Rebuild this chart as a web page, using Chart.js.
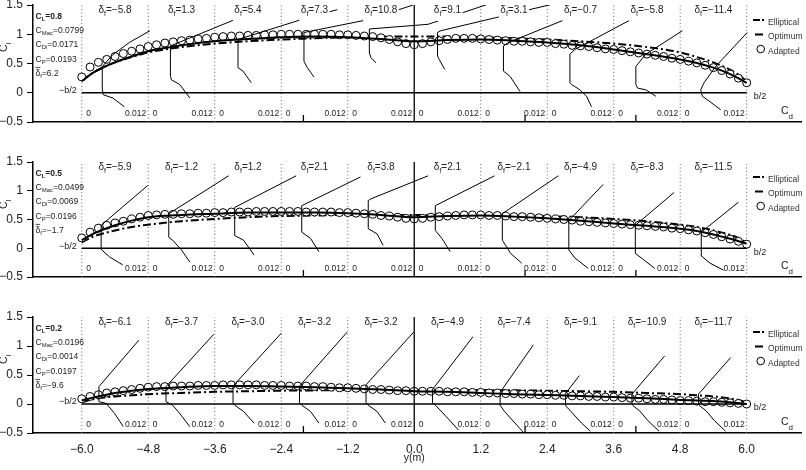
<!DOCTYPE html>
<html>
<head>
<meta charset="utf-8">
<script src="https://cdn.jsdelivr.net/npm/chart.js@4.4.0/dist/chart.umd.min.js"></script>
<style>
  body { margin: 0; background: #fff; }
  #wrap { position: relative; width: 806px; height: 470px; overflow: hidden; background: #fff; }
  canvas { position: absolute; left: 0; }
</style>
</head>
<body>
<div id="wrap">
  <canvas id="c1" width="806" height="156" style="top:0px;width:806px;height:156px"></canvas>
  <canvas id="c2" width="806" height="156" style="top:156px;width:806px;height:156px"></canvas>
  <canvas id="c3" width="806" height="159" style="top:311px;width:806px;height:159px"></canvas>
</div>
<script>
// span stations (m) of the adapted distribution
const stations = [-6,-5.85,-5.7,-5.55,-5.4,-5.25,-5.1,-4.95,-4.8,-4.65,-4.5,-4.35,-4.2,-4.05,-3.9,-3.75,-3.6,-3.45,-3.3,-3.15,
  -3,-2.85,-2.7,-2.55,-2.4,-2.25,-2.1,-1.95,-1.8,-1.65,-1.5,-1.35,-1.2,-1.05,-0.9,-0.75,-0.6,-0.45,-0.3,-0.15,
  0,0.15,0.3,0.45,0.6,0.75,0.9,1.05,1.2,1.35,1.5,1.65,1.8,1.95,2.1,2.25,2.4,2.55,2.7,2.85,
  3,3.15,3.3,3.45,3.6,3.75,3.9,4.05,4.2,4.35,4.5,4.65,4.8,4.95,5.1,5.25,5.4,5.55,5.7,5.85,6];

const adapted1 = [0.27,0.44,0.52,0.57,0.62,0.67,0.71,0.75,0.79,0.82,0.85,0.87,0.89,0.90,0.92,0.93,0.95,0.96,0.97,0.97,
  0.98,0.98,0.99,0.99,1.00,1.00,1.00,1.00,1.00,1.00,1.00,0.99,0.99,0.98,0.97,0.96,0.94,0.91,0.87,0.84,
  0.82,0.84,0.87,0.89,0.91,0.93,0.93,0.93,0.92,0.91,0.90,0.89,0.88,0.88,0.87,0.86,0.86,0.84,0.83,0.81,
  0.80,0.79,0.77,0.75,0.74,0.72,0.70,0.68,0.66,0.64,0.62,0.59,0.57,0.54,0.51,0.47,0.43,0.38,0.32,0.25,0.17];
const adapted2 = [0.18,0.28,0.35,0.40,0.44,0.47,0.51,0.54,0.57,0.58,0.59,0.59,0.60,0.60,0.61,0.61,0.62,0.62,0.63,0.63,
  0.63,0.64,0.64,0.64,0.64,0.64,0.64,0.63,0.63,0.63,0.63,0.62,0.62,0.61,0.60,0.59,0.57,0.56,0.54,0.52,
  0.51,0.52,0.54,0.55,0.56,0.57,0.58,0.58,0.58,0.57,0.57,0.56,0.55,0.55,0.54,0.53,0.52,0.51,0.50,0.49,
  0.47,0.46,0.45,0.44,0.43,0.42,0.41,0.40,0.39,0.38,0.37,0.35,0.34,0.32,0.30,0.27,0.24,0.20,0.16,0.12,0.07];
const adapted3 = [0.09,0.13,0.16,0.19,0.21,0.23,0.25,0.27,0.29,0.30,0.30,0.31,0.31,0.31,0.32,0.32,0.32,0.33,0.33,0.33,
  0.33,0.33,0.32,0.32,0.32,0.31,0.31,0.31,0.30,0.30,0.29,0.28,0.28,0.27,0.26,0.25,0.25,0.24,0.23,0.23,
  0.22,0.22,0.22,0.22,0.21,0.21,0.21,0.20,0.20,0.19,0.19,0.18,0.18,0.17,0.17,0.16,0.16,0.15,0.15,0.14,
  0.14,0.13,0.13,0.12,0.12,0.11,0.10,0.10,0.09,0.08,0.08,0.07,0.06,0.06,0.05,0.04,0.04,0.03,0.02,0.01,0.00];

// stations of the elliptical and optimum curves
const spanPts = [-6,-5.8,-5.6,-5.4,-5.1,-4.8,-4.2,-3.6,-3,-2.4,-1.8,-1.2,-0.6,0,0.6,1.2,1.8,2.4,3,3.6,4.2,4.8,5.1,5.4,5.6,5.8,6];
const elliptical1 = [0.20,0.34,0.44,0.52,0.61,0.69,0.78,0.84,0.88,0.91,0.93,0.95,0.96,0.96,0.96,0.95,0.93,0.91,0.88,0.84,0.78,0.69,0.61,0.52,0.44,0.34,0.20];
const optimum1    = [0.20,0.34,0.44,0.52,0.62,0.71,0.81,0.88,0.92,0.95,0.96,0.95,0.92,0.88,0.90,0.91,0.89,0.86,0.81,0.74,0.66,0.57,0.51,0.43,0.36,0.27,0.17];
const elliptical2 = [0.10,0.20,0.26,0.31,0.37,0.41,0.47,0.51,0.54,0.56,0.57,0.58,0.58,0.58,0.58,0.58,0.57,0.56,0.54,0.51,0.47,0.41,0.37,0.31,0.26,0.20,0.10];
const optimum2    = [0.14,0.25,0.33,0.40,0.48,0.54,0.58,0.60,0.62,0.62,0.62,0.61,0.58,0.54,0.56,0.57,0.55,0.52,0.48,0.43,0.39,0.34,0.30,0.24,0.19,0.14,0.08];
const elliptical3 = [0.03,0.08,0.11,0.13,0.15,0.17,0.19,0.21,0.22,0.23,0.235,0.24,0.24,0.24,0.24,0.24,0.235,0.23,0.22,0.21,0.19,0.17,0.15,0.13,0.11,0.08,0.03];
const optimum3    = [0.06,0.11,0.15,0.19,0.23,0.26,0.29,0.31,0.31,0.30,0.29,0.27,0.25,0.22,0.21,0.19,0.17,0.155,0.14,0.12,0.10,0.07,0.06,0.05,0.04,0.02,0.00];

// section polars: one strip per 1.2 m, Cd from 0 to 0.012 across the strip
const stripEdges = [-6,-4.8,-3.6,-2.4,-1.2,0,1.2,2.4,3.6,4.8];
const cdSpan = 0.012;
const polarCd1 = [
  [0.0077,0.0056,0.0039,0.0037,0.0037,0.0056,0.0086,0.0123],
  [0.0075,0.0057,0.0042,0.0040,0.0040,0.0156],
  [0.0066,0.0051,0.0042,0.0042,0.0156,0.0221],
  [0.0059,0.0047,0.0041,0.0041,0.0157,0.0238],
  [0.0051,0.0042,0.0039,0.0039,0.0145,0.0255],
  [0.0055,0.0045,0.0042,0.0042,0.0048,0.0252],
  [0.0071,0.0053,0.0041,0.0041,0.0050,0.0152],
  [0.0080,0.0071,0.0059,0.0044,0.0041,0.0041,0.0050,0.0151],
  [0.0076,0.0058,0.0043,0.0040,0.0040,0.0058,0.0124],
  [0.0073,0.0049,0.0040,0.0037,0.0043,0.0064,0.0121]];
const polarCl1 = [
  [-0.24,-0.09,-0.035,0.05,0.45,0.65,0.86,1.06],
  [-0.09,0.14,0.22,0.28,0.80,1.25],
  [0.17,0.37,0.43,0.91,1.25,1.42],
  [0.27,0.43,0.54,1.03,1.25,1.50],
  [0.51,0.60,0.68,1.09,1.17,1.52],
  [0.40,0.57,0.63,1.03,1.06,1.52],
  [0.02,0.28,0.37,0.80,0.86,1.25],
  [-0.24,-0.06,0.05,0.14,0.17,0.66,0.74,1.25],
  [-0.06,0.05,0.08,0.14,0.45,0.66,1.06],
  [-0.29,-0.12,-0.06,0.05,0.17,0.45,1.03]];
const polarCd2 = [
  [0.0074,0.0050,0.0035,0.0035,0.0119],
  [0.0075,0.0060,0.0044,0.0037,0.0037,0.0145],
  [0.0071,0.0052,0.0036,0.0036,0.0147],
  [0.0068,0.0053,0.0037,0.0037,0.0143],
  [0.0064,0.0053,0.0037,0.0037,0.0042,0.0145],
  [0.0065,0.0050,0.0038,0.0038,0.0145],
  [0.0074,0.0054,0.0039,0.0039,0.0140],
  [0.0074,0.0050,0.0039,0.0039,0.0101],
  [0.0074,0.0054,0.0039,0.0039,0.0109],
  [0.0078,0.0054,0.0039,0.0038,0.0038,0.0105]];
const polarCl2 = [
  [-0.29,-0.15,-0.02,0.40,1.09],
  [-0.24,-0.03,0.14,0.19,0.60,1.26],
  [-0.12,0.14,0.22,0.71,1.26],
  [-0.06,0.17,0.28,0.74,1.24],
  [0.05,0.25,0.34,0.83,0.86,1.26],
  [-0.06,0.17,0.31,0.74,1.26],
  [-0.26,-0.09,0.14,0.60,1.26],
  [-0.35,-0.17,-0.03,0.48,1.11],
  [-0.35,-0.20,-0.09,0.40,0.97],
  [-0.38,-0.26,-0.14,-0.03,0.28,0.80]];
const polarCd3 = [
  [0.0075,0.0059,0.0044,0.0031,0.0031,0.0103],
  [0.0075,0.0059,0.0044,0.0032,0.0032,0.0118],
  [0.0071,0.0052,0.0036,0.0033,0.0033,0.0120],
  [0.0068,0.0053,0.0037,0.0033,0.0033,0.0119],
  [0.0068,0.0053,0.0037,0.0033,0.0033,0.0119],
  [0.0080,0.0058,0.0038,0.0033,0.0033,0.0106],
  [0.0078,0.0062,0.0043,0.0035,0.0035,0.0095],
  [0.0078,0.0062,0.0043,0.0035,0.0033,0.0033,0.0058],
  [0.0082,0.0062,0.0047,0.0035,0.0033,0.0033,0.0092],
  [0.0082,0.0062,0.0047,0.0035,0.0033,0.0033,0.0091]];
const polarCl3 = [
  [-0.39,-0.16,0.01,0.04,0.30,1.10],
  [-0.39,-0.19,-0.02,0.04,0.30,1.20],
  [-0.33,-0.13,-0.02,0.02,0.31,1.22],
  [-0.33,-0.13,-0.02,0.02,0.31,1.24],
  [-0.33,-0.13,-0.02,0.02,0.33,1.24],
  [-0.45,-0.22,-0.02,0.02,0.25,1.16],
  [-0.50,-0.33,-0.13,-0.02,0.20,1.02],
  [-0.47,-0.33,-0.13,-0.05,-0.02,0.18,0.49],
  [-0.47,-0.29,-0.12,-0.03,0.00,0.17,0.83],
  [-0.47,-0.29,-0.12,-0.03,0.00,0.17,0.80]];

const flap1 = ["\u22125.8","1.3","5.4","7.3","10.8","9.1","3.1","\u22120.7","\u22125.8","\u221211.4"];
const flap2 = ["\u22125.9","\u22121.2","1.2","2.1","3.8","2.1","\u22122.1","\u22124.9","\u22128.3","\u221211.5"];
const flap3 = ["\u22126.1","\u22123.7","\u22123.0","\u22123.2","\u22123.2","\u22124.9","\u22127.4","\u22129.1","\u221210.9","\u221211.7"];

const infoCL   = ["0.8","0.5","0.2"];
const infoCMac = ["0.0799","0.0499","0.0196"];
const infoCDi  = ["0.0171","0.0069","0.0014"];
const infoCP   = ["0.0193","0.0196","0.0197"];
const infoDf   = ["6.2","\u22121.7","\u22129.6"];

const xTicks = [-6,-4.8,-3.6,-2.4,-1.2,0,1.2,2.4,3.6,4.8,6];
const yTicks = [-0.5,0,0.5,1,1.5];
const tickMarks = [-2,2,4];
const legendNames = ["Elliptical","Optimum","Adapted"];

const adapted = [adapted1, adapted2, adapted3];
const elliptical = [elliptical1, elliptical2, elliptical3];
const optimum = [optimum1, optimum2, optimum3];
const polarCd = [polarCd1, polarCd2, polarCd3];
const polarCl = [polarCl1, polarCl2, polarCl3];
const flaps = [flap1, flap2, flap3];

const FONT = "'Liberation Sans', Arial, sans-serif";
Chart.defaults.font.family = FONT;
Chart.defaults.color = "#222";

function minus(s) { return String(s).replace("-", "\u2212"); }

// draws a run of [text, size, dy, bold] pieces, returns end x
function runText(ctx, x, y, parts, measureOnly) {
  let cx = x;
  for (const [t, size, dy, bold] of parts) {
    ctx.font = (bold ? "bold " : "") + size + "px " + FONT;
    if (!measureOnly) ctx.fillText(t, cx, y + dy);
    cx += ctx.measureText(t).width;
  }
  return cx;
}

const decor = {
  id: "decor",
  afterDatasetsDraw(chart, args, opts) {
    const p = opts.panel;
    const ctx = chart.ctx;
    const a = chart.chartArea;
    const xs = chart.scales.x, ys = chart.scales.y;
    ctx.save();
    ctx.fillStyle = "#222";
    ctx.textBaseline = "alphabetic";
    ctx.textAlign = "left";

    // flap deflection labels with white backing
    flaps[p].forEach((v, i) => {
      const parts = [["\u03b4", 10, 0], ["f", 7, 2.5], ["=" + v, 10, 0]];
      const w = runText(ctx, 0, 0, parts, true);
      const cx = xs.getPixelForValue(stripEdges[i] + 0.6);
      ctx.fillStyle = "#fff";
      ctx.fillRect(cx - w / 2 - 1.5, a.top, w + 3, 16);
      ctx.fillStyle = "#222";
      runText(ctx, cx - w / 2, a.top + 8, parts);
    });

    // Cd scale labels under each strip
    ctx.font = "8.5px " + FONT;
    stripEdges.forEach((e) => {
      const l = xs.getPixelForValue(e), r = xs.getPixelForValue(e + 1.2);
      ctx.textAlign = "left";
      ctx.fillText("0", l + 4.5, a.bottom - 6.5);
      ctx.textAlign = "right";
      ctx.fillText("0.012", r - 2, a.bottom - 6.5);
    });
    ctx.textAlign = "left";

    // case summary
    const x0 = a.left + 2.5;
    const lh = 14.4;
    runText(ctx, x0, a.top + 13.5, [["C", 8.5, 0, true], ["L", 6, 2, true], ["=" + infoCL[p], 8.5, 0, true]]);
    runText(ctx, x0, a.top + 13.5 + lh, [["C", 8.5, 0], ["Mac", 6, 2], ["=" + infoCMac[p], 8.5, 0]]);
    runText(ctx, x0, a.top + 13.5 + 2 * lh, [["C", 8.5, 0], ["Di", 6, 2], ["=" + infoCDi[p], 8.5, 0]]);
    runText(ctx, x0, a.top + 13.5 + 3 * lh, [["C", 8.5, 0], ["P", 6, 2], ["=" + infoCP[p], 8.5, 0]]);
    const yb = a.top + 13.5 + 4 * lh - 0.5;
    ctx.font = "8.5px " + FONT;
    const dw = ctx.measureText("\u03b4").width;
    ctx.strokeStyle = "#222";
    ctx.lineWidth = 0.8;
    ctx.beginPath();
    ctx.moveTo(x0, yb - 8.2);
    ctx.lineTo(x0 + dw, yb - 8.2);
    ctx.stroke();
    runText(ctx, x0, yb, [["\u03b4", 8.5, 0], ["f", 6, 2], ["=" + infoDf[p], 8.5, 0]]);

    // span ends
    const y0 = ys.getPixelForValue(0);
    ctx.font = "9px " + FONT;
    ctx.textBaseline = "middle";
    ctx.textAlign = "right";
    ctx.fillText("\u2212b/2", xs.getPixelForValue(-6) - 5, y0 - 2);
    ctx.textAlign = "left";
    ctx.fillText("b/2", xs.getPixelForValue(6) + 7, y0 + 4);

    // Cd axis name
    ctx.textBaseline = "alphabetic";
    runText(ctx, 781, a.bottom - 8.5, [["C", 10.5, 0], ["d", 8, 5]]);

    // legend
    const lx = 768;
    const ly = [a.top + 17.5, a.top + 32, a.top + 46.5];
    ctx.strokeStyle = "#000";
    ctx.lineWidth = 2;
    ctx.beginPath();
    ctx.moveTo(753, ly[0] - 2.5); ctx.lineTo(760, ly[0] - 2.5);
    ctx.moveTo(762, ly[0] - 2.5); ctx.lineTo(764, ly[0] - 2.5);
    ctx.moveTo(755, ly[1] - 2.5); ctx.lineTo(763, ly[1] - 2.5);
    ctx.stroke();
    ctx.lineWidth = 1;
    ctx.beginPath();
    ctx.arc(760.7, ly[2] - 2.5, 3.8, 0, Math.PI * 2);
    ctx.stroke();
    ctx.font = "8.5px " + FONT;
    ctx.fillStyle = "#333";
    ctx.textBaseline = "middle";
    legendNames.forEach((n, i) => ctx.fillText(n, lx, ly[i]));
    ctx.fillStyle = "#222";

    // Cl axis name, rotated
    ctx.save();
    ctx.translate(6.5, a.top + 42);
    ctx.rotate(-Math.PI / 2);
    ctx.textBaseline = "alphabetic";
    runText(ctx, -5, 0, [["C", 10.5, 0], ["l", 8, 4]]);
    ctx.restore();

    if (p === 2) {
      ctx.font = "10.5px " + FONT;
      ctx.textAlign = "center";
      ctx.textBaseline = "middle";
      ctx.fillText("y(m)", xs.getPixelForValue(0), 147);
    }
    ctx.restore();
  }
};

function line(pts, extra) {
  return Object.assign({
    data: pts, showLine: true, pointRadius: 0, borderColor: "#000",
    borderWidth: 1, fill: false, tension: 0
  }, extra || {});
}

function makePanel(id, p, top, plotH, showX) {
  const canvas = document.getElementById(id);
  const H = canvas.height;
  const datasets = [];

  // first entry is painted last (on top)
  datasets.push(line(spanPts.map((x, i) => ({ x: x, y: optimum[p][i] })),
    { borderWidth: 2, cubicInterpolationMode: "monotone" }));

  polarCd[p].forEach((cds, s) => {
    const pts = cds.map((cd, k) => ({ x: stripEdges[s] + cd / cdSpan * 1.2, y: polarCl[p][s][k] }));
    datasets.push(line(pts, { borderWidth: 1 }));
  });

  datasets.push(line([{ x: 0, y: -0.5 }, { x: 0, y: 1.5 }], { borderWidth: 1.3 }));
  datasets.push(line([{ x: -6, y: 0 }, { x: 6, y: 0 }], { borderWidth: 1.3 }));
  tickMarks.forEach((t) => {
    datasets.push(line([{ x: t, y: -0.5 }, { x: t, y: -0.38 }], { borderWidth: 1.3 }));
  });

  datasets.push({
    data: stations.map((x, i) => ({ x: x, y: adapted[p][i] })),
    showLine: false, pointRadius: 4, pointBorderWidth: 1,
    pointBorderColor: "#000", pointBackgroundColor: "#fff"
  });

  datasets.push(line(spanPts.map((x, i) => ({ x: x, y: elliptical[p][i] })),
    { borderWidth: 2, borderDash: [8, 3, 2, 3], cubicInterpolationMode: "monotone" }));

  // strip separators
  xTicks.forEach((e) => {
    if (e === 0) return;
    datasets.push(line([{ x: e, y: -0.5 }, { x: e, y: 1.5 }], { borderColor: "#666", borderDash: [1, 2.5] }));
  });

  return new Chart(canvas, {
    type: "scatter",
    data: { datasets: datasets },
    options: {
      responsive: false,
      animation: false,
      events: [],
      layout: { padding: { top: top, left: 0, right: 0, bottom: 0 } },
      plugins: { legend: { display: false }, tooltip: { enabled: false }, decor: { panel: p } },
      scales: {
        x: {
          type: "linear", min: -6.88, max: 6.98,
          afterBuildTicks: (s) => { s.ticks = xTicks.map((v) => ({ value: v })); },
          afterFit: (s) => { s.height = H - top - plotH; s.paddingLeft = 0; s.paddingRight = 0; },
          grid: { display: false, drawTicks: false },
          border: { display: true, color: "#000", width: 1.5 },
          ticks: {
            display: showX, autoSkip: false, maxRotation: 0, padding: 9,
            font: { size: 12 }, color: "#222",
            callback: (v) => minus(Number(v).toFixed(1))
          }
        },
        y: {
          min: -0.5, max: 1.5,
          afterBuildTicks: (s) => { s.ticks = yTicks.map((v) => ({ value: v })); },
          afterFit: (s) => { s.width = 33; s.paddingTop = 0; s.paddingBottom = 0; },
          grid: { display: true, drawOnChartArea: false, drawTicks: true, tickLength: 6, color: "#000" },
          border: { display: true, color: "#000", width: 1.5 },
          ticks: { padding: 4, font: { size: 12 }, color: "#222", callback: (v) => minus(v) }
        }
      }
    },
    plugins: [decor]
  });
}

makePanel("c1", 0, 5, 117, false);
makePanel("c2", 1, 6, 115, false);
makePanel("c3", 2, 6, 116, true);
</script>
</body>
</html>
